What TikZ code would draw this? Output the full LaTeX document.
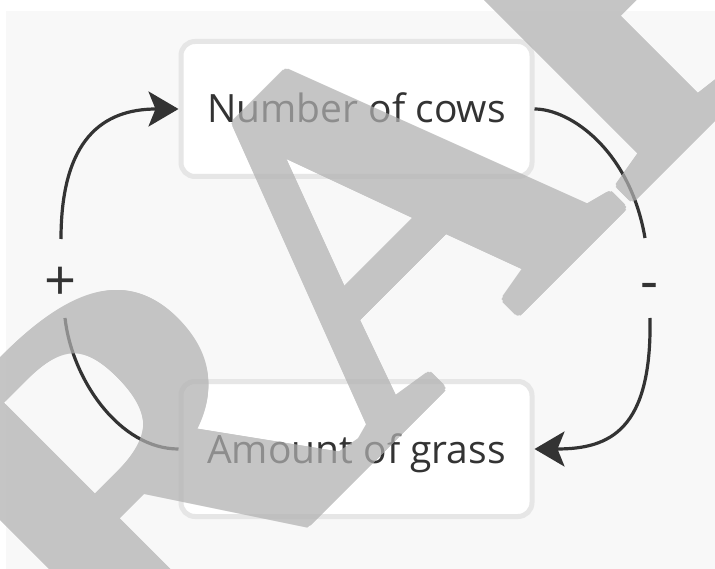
\documentclass[tikz,border=0pt]{standalone}
\usepackage{fontspec}
\setmainfont{Open Sans}
\newfontfamily\wmfont{Liberation Serif}
\usetikzlibrary{arrows.meta}
\definecolor{bg}{HTML}{F8F8F8}
\definecolor{ink}{HTML}{333333}
\definecolor{boxline}{HTML}{E6E6E6}
\definecolor{wm}{HTML}{B0B0B0}
\tikzset{
  box/.style={draw=boxline, line width=5pt, fill=white, rounded corners=14pt,
    minimum width=351pt, minimum height=135pt, inner sep=0pt,
    text=ink, font=\fontsize{39}{39}\selectfont, text height=28pt, text depth=0pt},
  link/.style={draw=ink, line width=3.2pt},
  tipped/.style={-{Stealth[length=30pt,width=35pt,inset=7pt]}},
  sign/.style={text=ink, font=\fontsize{56}{56}\selectfont, inner sep=0pt, anchor=base},
  watermark/.style={rotate=45, anchor=base west, inner sep=0pt, text=wm,
    font=\wmfont\bfseries\fontsize{505}{505}\selectfont}
}
\begin{document}
\begin{tikzpicture}[x=1pt,y=-1pt]
\useasboundingbox (0,0) rectangle (715,569);
\fill[white] (0,0) rectangle (715,569);
\fill[bg] (6,11) rectangle (715,569);

\node[box] (cows) at (356.5,109) {Number of cows};
\node[box] (grass) at (356.5,449) {Amount of grass};

\node[sign] (plus) at (61,301) {+};
\node[sign] (minus) at (650,301) {-};

\coordinate (plusTop) at (61,239);
\coordinate (plusBot) at (65,318);
\coordinate (minusTop) at (645,238);
\coordinate (minusBot) at (650,318);

\draw[link, tipped] (plusTop) .. controls (61,139) and (103,109) .. (cows.west);
\draw[link] (grass.west) .. controls (120,449) and (72,380) .. (plusBot);
\draw[link] (cows.east) .. controls (570,109) and (630,150) .. (minusTop);
\draw[link, tipped] (minusBot) .. controls (652,430) and (610,449) .. (grass.east);

\begin{scope}
\clip (0,0) rectangle (715,569);
\begin{scope}[transparency group, opacity=0.72]
\foreach \L/\x/\y in {D/-135.9/967.3, R/122.2/709.2, A/367.6/463.8, F/624.3/207.1, T/842.8/-11.4}{
  \node[watermark] (wm\L) at (\x,\y) {\L};
  \foreach \a [count=\i] in {0,22.5,...,337.5}
    \node[shift={(\a:4pt)}, watermark] (wm\L\i) at (\x,\y) {\L};
}
\end{scope}
\end{scope}
\end{tikzpicture}
\end{document}
